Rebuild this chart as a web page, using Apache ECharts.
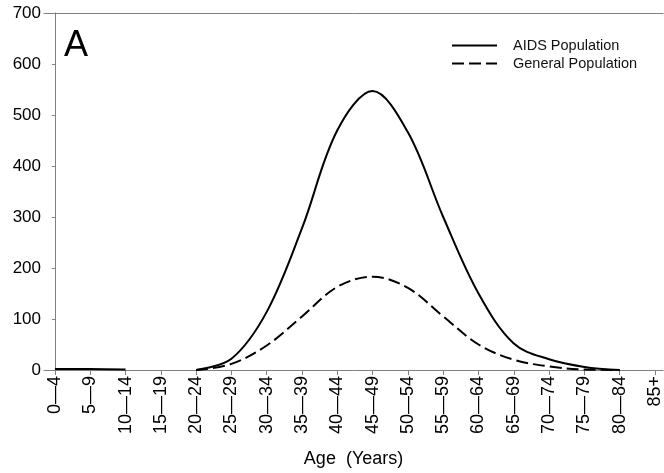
<!DOCTYPE html>
<html>
<head>
<meta charset="utf-8">
<script src="https://cdn.jsdelivr.net/npm/echarts@6/dist/echarts.min.js"></script>
<style>
  html, body { margin: 0; padding: 0; background: #fff; }
  #chart { width: 664px; height: 473px; }
</style>
</head>
<body>
<div id="chart"></div>
<script>
// age groups on the x axis
const ageGroups = ['0—4', '5—9', '10—14', '15—19', '20—24', '25—29', '30—34', '35—39', '40—44',
  '45—49', '50—54', '55—59', '60—64', '65—69', '70—74', '75—79', '80—84', '85+'];
const aidsPopulation = [2, 2, 1, null, 0, 22, 114, 278, 470, 547, 466, 300, 150, 52, 21, 6, 0, null];
const generalPopulation = [null, null, null, null, 0, 12, 48, 105, 163, 183, 161, 105, 50, 20, 7, 1, 0, null];
const yTicks = [0, 100, 200, 300, 400, 500, 600, 700];

const font = "'Liberation Sans', Arial, sans-serif";
const axisGray = '#808080';
const tickIdx = ageGroups.map((_, i) => i);

const chart = echarts.init(document.getElementById('chart'));
chart.setOption({
  animation: false,
  textStyle: { fontFamily: font, color: '#000' },
  grid: { left: 44, right: 0, top: 13, bottom: 95 },
  legend: {
    orient: 'vertical',
    left: 451,
    top: 38,
    padding: 0,
    itemWidth: 45,
    itemHeight: 14,
    itemGap: 3,
    itemStyle: { opacity: 0 },
    textStyle: { fontSize: 14.5, color: '#111', fontFamily: font, padding: [0, 0, 0, 11] },
    data: ['AIDS Population', 'General Population']
  },
  graphic: [{
    type: 'text', left: 64, top: 28,
    style: { text: 'A', fontSize: 36, fontFamily: font, fill: '#000' }
  }],
  xAxis: [{
    type: 'value',
    min: -0.31,
    max: 17.23,
    splitLine: { show: false },
    axisLine: { lineStyle: { color: axisGray, width: 1 } },
    axisTick: { customValues: tickIdx, length: 5, lineStyle: { color: axisGray } },
    axisLabel: {
      customValues: tickIdx,
      rotate: 90,
      fontSize: 18,
      margin: 6,
      color: '#000',
      formatter: v => ageGroups[Math.round(v)]
    },
    name: 'Age  (Years)',
    nameLocation: 'middle',
    nameGap: 80,
    nameTextStyle: { fontSize: 18, color: '#000' }
  }, {
    type: 'value',
    position: 'top',
    min: -0.31,
    max: 17.23,
    splitLine: { show: false },
    axisLine: { show: true, lineStyle: { color: axisGray, width: 1 } },
    axisTick: { show: false },
    axisLabel: { show: false }
  }],
  yAxis: {
    type: 'value',
    min: 0,
    max: 700,
    interval: 100,
    splitLine: { show: false },
    axisLine: { show: true, lineStyle: { color: axisGray, width: 1 } },
    axisTick: { show: true, length: 3, lineStyle: { color: axisGray } },
    axisLabel: {
      fontSize: 17, margin: 3, color: '#000',
      formatter: v => yTicks.includes(v) ? String(v) : ''
    }
  },
  series: [{
    name: 'AIDS Population',
    type: 'line',
    smooth: 0.35,
    symbol: 'none',
    lineStyle: { color: '#000', width: 2 },
    itemStyle: { color: '#000' },
    data: aidsPopulation.map((v, i) => [i, v])
  }, {
    name: 'General Population',
    type: 'line',
    smooth: 0.35,
    symbol: 'none',
    lineStyle: { color: '#000', width: 2, type: [12, 5] },
    itemStyle: { color: '#000' },
    data: generalPopulation.map((v, i) => [i, v])
  }]
});
</script>
</body>
</html>
